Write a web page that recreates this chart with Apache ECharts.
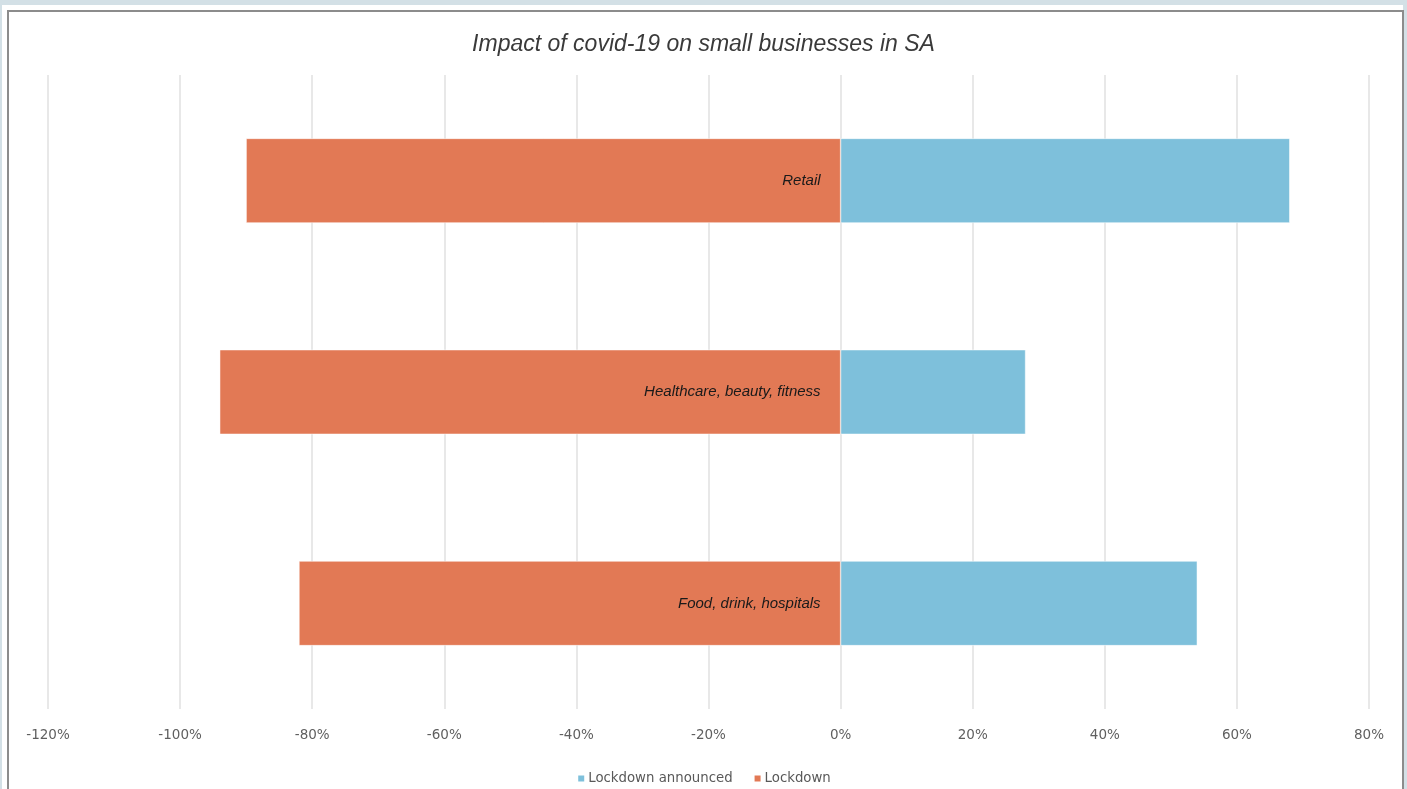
<!DOCTYPE html>
<html>
<head>
<meta charset="utf-8">
<script src="https://cdn.jsdelivr.net/npm/echarts@6/dist/echarts.min.js"></script>
<style>
  html, body { margin: 0; padding: 0; width: 1407px; height: 789px; overflow: hidden; background: #d3e0e6; }
  .paper { position: absolute; left: 2px; top: 5px; width: 1401px; height: 800px; background: #fff; }
  .frame { position: absolute; left: 7px; top: 10px; width: 1393px; height: 800px; border: 2px solid #8c8c8c; border-bottom: none; background: #fff; }
  #chart { position: absolute; left: 0; top: 0; width: 1407px; height: 789px; }
</style>
</head>
<body>
<div class="paper"></div>
<div class="frame"></div>
<div id="chart"></div>
<script>
// categories bottom -> top (category y axis grows upward)
const categories = ['Food, drink, hospitals', 'Healthcare, beauty, fitness', 'Retail']
const lockdownAnnounced = [0.54, 0.28, 0.68]
const lockdown = [-0.82, -0.94, -0.90]
const xTicks = { min: -1.2, max: 0.8, step: 0.2 }

const chart = echarts.init(document.getElementById('chart'))

const option = {
    backgroundColor: 'transparent',
    animation: false,
    title: {
        text: 'Impact of covid-19 on small businesses in SA',
        left: 'center',
        top: 28,
        textStyle: {
            fontFamily: 'Liberation Sans',
            fontStyle: 'italic',
            fontWeight: 'normal',
            fontSize: 23,
            color: '#3a3a3a'
        }
    },
    legend: {
        data: ['Lockdown announced', 'Lockdown'],
        bottom: -1,
        left: 'center',
        icon: 'rect',
        itemWidth: 8,
        itemHeight: 8,
        itemGap: 20,
        textStyle: {
            fontFamily: 'DejaVu Sans',
            fontSize: 13.3,
            color: '#595959',
            padding: [0, 0, 0, -2]
        }
    },
    grid: {
        left: 48,
        right: 38,
        top: 75,
        bottom: 80,
        outerBoundsMode: 'none'
    },
    xAxis: {
        type: 'value',
        min: xTicks.min,
        max: xTicks.max,
        interval: xTicks.step,
        axisLine: { show: false },
        axisTick: { show: false },
        splitLine: { lineStyle: { color: '#e8e8e8', width: 2 } },
        axisLabel: {
            margin: 19,
            fontFamily: 'DejaVu Sans',
            fontSize: 13.5,
            color: '#5f5f5f',
            formatter: v => Math.round(v * 100) + '%'
        }
    },
    yAxis: {
        type: 'category',
        data: categories,
        axisLine: { show: false },
        axisTick: { show: false },
        axisLabel: { show: false }
    },
    series: [
        {
            name: 'Lockdown announced',
            type: 'bar',
            stack: 'total',
            barWidth: '40%',
            data: lockdownAnnounced,
            itemStyle: { color: '#7ec0db', borderColor: '#fff', borderWidth: 0.5 }
        },
        {
            name: 'Lockdown',
            type: 'bar',
            stack: 'total',
            barWidth: '40%',
            data: lockdown,
            itemStyle: { color: '#e27955', borderColor: '#fff', borderWidth: 0.5 },
            label: {
                show: true,
                position: 'insideRight',
                distance: 20,
                formatter: '{b}',
                fontFamily: 'Liberation Sans',
                fontStyle: 'italic',
                fontSize: 15,
                color: '#1a1a1a'
            }
        }
    ]
}

chart.setOption(option)
</script>
</body>
</html>
